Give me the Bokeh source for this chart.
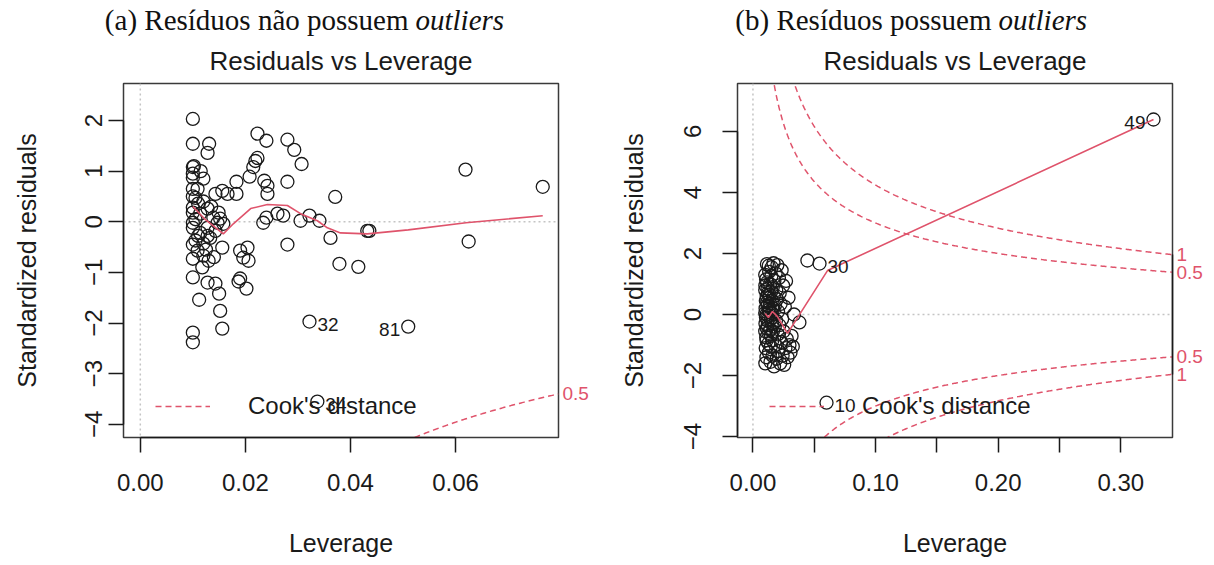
import numpy as np
from bokeh.plotting import figure
from bokeh.models import (Range1d, FixedTicker, NumeralTickFormatter, LinearAxis, Span,
                          Legend, LegendItem, CustomJSTickFormatter)
from bokeh.layouts import row, column
from bokeh.core.properties import value
from bokeh.embed import file_html
from bokeh.resources import INLINE

# ---------------- data: panel (a) ----------------
lev_a = [0.0100, 0.0100, 0.0100, 0.0102, 0.0100, 0.0100, 0.0100, 0.0100, 0.0105, 0.0110,
         0.0100, 0.0100, 0.0105, 0.0100, 0.0100, 0.0105, 0.0100, 0.0109, 0.0100, 0.0100,
         0.0100, 0.0100, 0.0110,
         0.0131, 0.0128, 0.0115, 0.0120, 0.0109, 0.0120, 0.0135, 0.0128, 0.0114, 0.0139,
         0.0128, 0.0114, 0.0128, 0.0133, 0.0120, 0.0125, 0.0120, 0.0130, 0.0118, 0.0128,
         0.0112, 0.0140,
         0.0143, 0.0156, 0.0166, 0.0149, 0.0152, 0.0147, 0.0158, 0.0143, 0.0156, 0.0143,
         0.0150, 0.0152, 0.0156,
         0.0183, 0.0183, 0.0190, 0.0204, 0.0196, 0.0206, 0.0187, 0.0202, 0.0190, 0.0208,
         0.0215, 0.0219, 0.0223, 0.0223, 0.0240, 0.0236, 0.0242, 0.0242, 0.0240, 0.0234,
         0.0261, 0.0272, 0.0280, 0.0293, 0.0307, 0.0280, 0.0280, 0.0305,
         0.0322, 0.0341, 0.0371, 0.0362, 0.0379, 0.0415, 0.0432, 0.0436,
         0.0322, 0.0510, 0.0337, 0.0619, 0.0625, 0.0766]
res_a = [2.03, 1.54, 1.08, 1.10, 0.95, 0.87, 0.65, 0.50, 0.47, 0.36,
         0.28, 0.18, 0.05, -0.02, -0.12, -0.37, -0.45, -0.57, -0.73, -1.10,
         -2.19, -2.38, -0.28,
         1.54, 1.36, 1.00, 0.85, 0.65, 0.40, 0.30, 0.26, 0.16, 0.08,
         -0.12, -0.22, -0.28, -0.32, -0.43, -0.55, -0.67, -0.77, -0.90, -1.20,
         -1.54, -0.70,
         0.55, 0.61, 0.55, 0.18, 0.06, -0.02, -0.04, -0.18, -0.51, -1.22,
         -1.42, -1.76, -2.11,
         0.79, 0.55, -0.57, -0.51, -0.71, -0.77, -1.18, -1.32, -1.12, 0.89,
         1.08, 1.20, 1.26, 1.74, 1.60, 0.81, 0.71, 0.55, 0.08, -0.02,
         0.16, 0.12, 1.62, 1.42, 1.14, 0.79, -0.45, 0.02,
         0.12, 0.02, 0.49, -0.32, -0.83, -0.89, -0.18, -0.18,
         -1.97, -2.07, -3.55, 1.03, -0.39, 0.69]
smooth_lev_a = [0.0100, 0.0124, 0.0158, 0.0177, 0.0210, 0.0242, 0.0280, 0.0305, 0.0337,
                0.0356, 0.0381, 0.0432, 0.0510, 0.0620, 0.0766]
smooth_res_a = [0.30, 0.04, -0.24, -0.04, 0.26, 0.34, 0.32, 0.16, 0.02,
                -0.12, -0.22, -0.24, -0.16, -0.02, 0.12]
id_idx_a = [94, 95, 96]
id_text_a = ["32", "81", "34"]
id_side_a = ["right", "left", "right"]

# ---------------- data: panel (b) ----------------
lev_b = [0.0100, 0.0102, 0.0105, 0.0100, 0.0108, 0.0100, 0.0110, 0.0103, 0.0106, 0.0112,
         0.0100, 0.0115, 0.0104, 0.0118, 0.0109, 0.0120, 0.0101, 0.0113, 0.0122, 0.0107,
         0.0125, 0.0111, 0.0128, 0.0116, 0.0130, 0.0119, 0.0124, 0.0132, 0.0121, 0.0135,
         0.0126, 0.0138, 0.0129, 0.0140, 0.0133, 0.0143, 0.0136, 0.0145, 0.0139, 0.0148,
         0.0142, 0.0150, 0.0146, 0.0152, 0.0149, 0.0155, 0.0153, 0.0158, 0.0156, 0.0160,
         0.0162, 0.0159, 0.0165, 0.0168, 0.0163, 0.0170, 0.0172, 0.0175, 0.0178, 0.0180,
         0.0183, 0.0185, 0.0188, 0.0190, 0.0193, 0.0196, 0.0199, 0.0202, 0.0205, 0.0208,
         0.0212, 0.0215, 0.0218, 0.0222, 0.0226, 0.0230, 0.0234, 0.0238, 0.0242, 0.0246,
         0.0250, 0.0255, 0.0260, 0.0265, 0.0270, 0.0276, 0.0282, 0.0290, 0.0298, 0.0306,
         0.0315, 0.0325, 0.0335, 0.0101, 0.0114,
         0.0379, 0.0444, 0.0543, 0.0600, 0.3267]
res_b = [0.05, -0.30, 0.45, 0.80, -0.75, 1.30, -1.40, 0.20, -0.10, 0.60,
         -0.55, 1.05, -1.10, 0.30, 0.00, -0.20, 0.95, -0.45, 0.70, 1.15,
         -0.60, -0.85, 0.15, 0.40, -1.25, 0.85, -0.05, 1.40, -0.35, 0.55,
         -0.95, 0.10, 1.60, -0.50, 0.25, -1.55, 0.65, -0.15, 1.00, -0.70,
         0.35, 1.25, -1.05, 0.05, 0.75, -0.30, 1.55, -0.85, 0.45, -1.35,
         0.90, -0.10, 0.20, 1.68, -0.55, 0.60, -1.70, 1.10, -0.40, 0.30,
         -1.00, 1.35, -0.20, 0.80, -1.45, 0.50, 1.62, -0.65, 0.10, -1.20,
         1.20, -0.35, 0.70, -1.60, 0.35, -0.90, 1.45, -0.15, -1.35, 0.95,
         -0.55, -1.65, 0.25, -1.10, 1.10, -0.80, -1.40, 0.55, -1.00, -1.25,
         -0.70, -1.05, 0.00, -1.60, 1.65,
         -0.26, 1.77, 1.67, -2.89, 6.39]
smooth_lev_b = [0.0100, 0.0126, 0.0159, 0.0200, 0.0282, 0.0608, 0.3267]
smooth_res_b = [0.03, -0.10, 0.10, -0.07, -0.62, 1.44, 6.39]
id_idx_b = [99, 97, 98]
id_text_b = ["49", "30", "10"]
id_side_b = ["left", "right", "right"]

# ---------------- axes / reference values ----------------
cook_levels = [0.5, 1.0]
n_params = 2
xticks_a = [0.00, 0.02, 0.04, 0.06]
xminor_a = []
yticks_a = [-4, -3, -2, -1, 0, 1, 2]
xticks_b = [0.00, 0.10, 0.20, 0.30]
xminor_b = [0.05, 0.15, 0.25]
yticks_b = [-4, -2, 0, 2, 4, 6]

title_text = "Residuals vs Leverage"
xlabel = "Leverage"
ylabel = "Standardized residuals"
legend_text = "Cook's distance"
caption_a = ("(a) Resíduos não possuem", "outliers")
caption_b = ("(b) Resíduos possuem", "outliers")

SANS = "Liberation Sans"
SERIF = "Liberation Serif"
INK = "#1a1a1a"
BOX = "#3a3a3a"
RED = "#DF536B"
GREY = "#c4c4c4"

W, H = 1214, 565
CAP_H = 36
FW, FH = 435, 354
FRAME_TOP = 83


def build(lev, res, slev, sres, id_idx, id_text, id_side, xr, yr, xticks, xminor, yticks,
          border_left, border_right, ytick_standoff, ylabel_standoff):
    p = figure(frame_width=FW, frame_height=FH,
               min_border_left=border_left, min_border_right=border_right,
               min_border_top=FRAME_TOP - CAP_H, min_border_bottom=H - FRAME_TOP - FH,
               x_range=Range1d(*xr), y_range=Range1d(*yr),
               toolbar_location=None, output_backend="svg",
               x_axis_location=None, y_axis_location=None,
               background_fill_color="white", border_fill_color="white")
    p.grid.visible = False
    p.outline_line_color = BOX
    p.outline_line_width = 1.5

    # title
    p.title.text = title_text
    p.title.align = "center"
    p.title.text_font = SANS
    p.title.text_font_size = "26px"
    p.title.text_font_style = "normal"
    p.title.text_color = INK
    p.title.standoff = 15

    xa = LinearAxis(ticker=FixedTicker(ticks=xticks, minor_ticks=xminor),
                    formatter=NumeralTickFormatter(format="0.00"),
                    bounds=(xticks[0], xticks[-1]), axis_label=xlabel)
    ya = LinearAxis(ticker=FixedTicker(ticks=yticks), bounds=(yticks[0], yticks[-1]),
                    axis_label=ylabel)
    for ax in (xa, ya):
        ax.axis_line_color = INK
        ax.axis_line_width = 1.5
        ax.major_tick_line_color = INK
        ax.major_tick_line_width = 1.5
        ax.major_tick_in = 0
        ax.major_tick_out = 15
        ax.minor_tick_line_color = INK
        ax.minor_tick_line_width = 1.5
        ax.minor_tick_in = 0
        ax.minor_tick_out = 15
        ax.major_label_text_font = SANS
        ax.major_label_text_font_size = "24px"
        ax.major_label_text_color = INK
        ax.axis_label_text_font = SANS
        ax.axis_label_text_font_size = "25px"
        ax.axis_label_text_font_style = "normal"
        ax.axis_label_text_color = INK
    xa.major_label_standoff = 21
    xa.axis_label_standoff = 35
    ya.major_label_orientation = "vertical"
    ya.major_label_standoff = ytick_standoff
    ya.axis_label_standoff = ylabel_standoff
    p.add_layout(xa, "below")
    p.add_layout(ya, "left")

    # reference dotted lines at 0
    p.add_layout(Span(location=0, dimension="height", line_color=GREY, line_dash="2 3",
                      line_width=1.5, level="underlay"))
    p.add_layout(Span(location=0, dimension="width", line_color=GREY, line_dash="2 3",
                      line_width=1.5, level="underlay"))

    # points
    p.scatter(lev, res, marker="circle", size=13, fill_color=None, line_color=INK,
              line_width=1.3)
    # smoother
    p.line(slev, sres, line_color=RED, line_width=1.6)

    # Cook's distance contours
    hh = np.linspace(0.0008, xr[1], 400)
    first = None
    for crit in cook_levels:
        cl = np.sqrt(crit * n_params * (1 - hh) / hh)
        r1 = p.line(hh, cl, line_color=RED, line_dash="6 4", line_width=1.5)
        p.line(hh, -cl, line_color=RED, line_dash="6 4", line_width=1.5)
        if first is None:
            first = r1

    # right axis with Cook's levels
    ymult = np.sqrt(n_params * (1 - xr[1]) / xr[1])
    tv, tl = [], []
    for crit in reversed(cook_levels):
        tv.append(-float(np.sqrt(crit) * ymult)); tl.append(f"{crit:g}")
    for crit in cook_levels:
        tv.append(float(np.sqrt(crit) * ymult)); tl.append(f"{crit:g}")
    vis = [(v, l) for v, l in zip(tv, tl) if yr[0] <= v <= yr[1]]
    vv = [v for v, _ in vis]
    ra = LinearAxis(ticker=FixedTicker(ticks=vv), bounds=(min(vv), max(vv)),
                    formatter=CustomJSTickFormatter(args=dict(tv=vv, tl=[l for _, l in vis]),
                        code="for (let i = 0; i < tv.length; i++) { if (Math.abs(tv[i] - tick) < 1e-6) return tl[i]; } return '';"))
    ra.major_tick_in = 0
    ra.major_tick_out = 0
    ra.major_label_standoff = 4
    ra.major_label_text_font = SANS
    ra.major_label_text_font_size = "19px"
    ra.major_label_text_color = RED
    ra.axis_line_color = INK if len(vv) > 1 else None
    ra.axis_line_width = 1.5
    p.add_layout(ra, "right")

    # legend
    leg = Legend(items=[LegendItem(label=legend_text, renderers=[first])],
                 location=(32, 17), padding=0, margin=0, spacing=0,
                 glyph_width=55, glyph_height=24, label_standoff=38, label_height=24,
                 border_line_color=None, background_fill_alpha=0,
                 label_text_font=SANS, label_text_font_size="24px",
                 label_text_color=INK)
    p.add_layout(leg, "center")

    # id labels
    for i, t, side in zip(id_idx, id_text, id_side):
        p.text(x=[lev[i]], y=[res[i]], text=[t], text_font_size="19px",
               text_color=INK, text_align="left" if side == "right" else "right",
               text_baseline="middle", x_offset=8 if side == "right" else -8,
               y_offset=3, text_font=value(SANS))
    return p


pa = build(lev_a, res_a, smooth_lev_a, smooth_res_a, id_idx_a, id_text_a, id_side_a,
           (-0.0032, 0.0796), (-4.26, 2.73), xticks_a, xminor_a, yticks_a,
           123, 50, 6, 42)
pb = build(lev_b, res_b, smooth_lev_b, smooth_res_b, id_idx_b, id_text_b, id_side_b,
           (-0.0126, 0.3422), (-4.03, 7.57), xticks_b, xminor_b, yticks_b,
           129, 42, 21, 34)

# caption strip (sub-figure captions, regular + italic)
cap = figure(frame_width=W, frame_height=CAP_H, min_border=0,
             x_range=Range1d(0, W), y_range=Range1d(0, CAP_H),
             toolbar_location=None, output_backend="svg",
             x_axis_location=None, y_axis_location=None)
cap.title.visible = False
cap.grid.visible = False
cap.outline_line_color = None
cap_split = [408, 991]
cap_texts = [caption_a, caption_b]
CAP_Y = 17   # baseline position inside the caption strip (data units = px)
for sx, (reg, ital) in zip(cap_split, cap_texts):
    cap.text(x=[sx], y=[CAP_Y], text=[reg], text_font=value(SERIF),
             text_font_size="29px", text_align="right", text_baseline="alphabetic",
             text_color="#111111")
    cap.text(x=[sx + 7], y=[CAP_Y], text=[ital], text_font=value(SERIF),
             text_font_size="29px", text_font_style="italic", text_align="left",
             text_baseline="alphabetic", text_color="#111111")

layout = column(cap, row(pa, pb, spacing=0), spacing=0)
open("out.html", "w").write(file_html(layout, INLINE))
